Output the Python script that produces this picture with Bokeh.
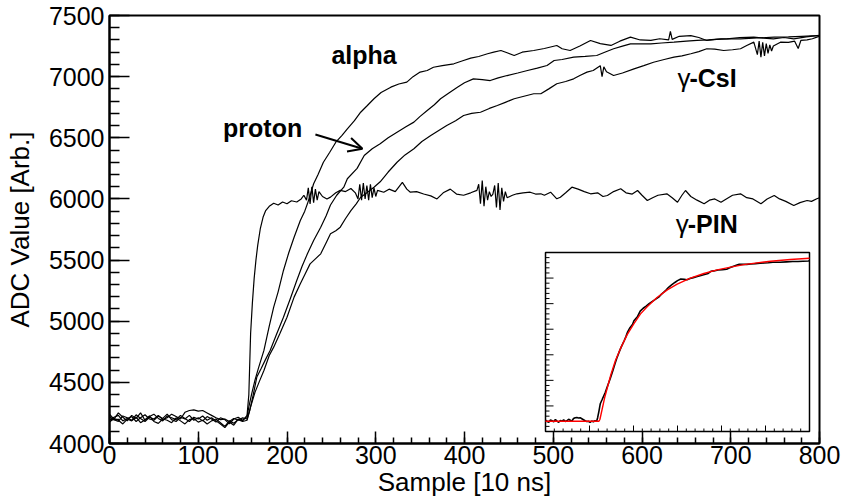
from bokeh.plotting import figure
from bokeh.models import Range1d, SingleIntervalTicker, Arrow, OpenHead, Label
from bokeh.embed import file_html
from bokeh.resources import INLINE

# ---------------- data ----------------
base_x = list(range(0, 151, 5))

alpha_x = base_x + [155, 157, 160, 164, 168, 174, 180, 185, 190, 196, 202, 208, 215, 220, 223, 226, 230, 235, 241,
                    248, 255, 262, 268, 276, 283, 290, 298, 306, 317, 326, 335, 342, 350, 358, 365, 375, 388, 398,
                    407, 416, 426, 433, 441, 448, 456, 465, 478, 490, 504, 510, 519, 530, 542, 553, 565, 575, 587,
                    598, 610, 620, 630, 632, 634, 642, 655, 664, 673, 684, 696, 710, 726, 737, 748, 760, 771, 785,
                    797, 800]
alpha_y = [4190, 4215, 4230, 4185, 4205, 4220, 4180, 4210, 4235, 4200, 4190, 4225, 4205, 4240, 4195, 4180,
           4215, 4200, 4230, 4190, 4210, 4185, 4220, 4200, 4175, 4210, 4195, 4160, 4200, 4215, 4190] + \
          [4220, 4300, 4400, 4520, 4620, 4761, 4960, 5115, 5240, 5415, 5560, 5687, 5824, 5900, 5960, 6028, 6124,
           6200, 6300, 6380, 6464, 6520, 6573, 6640, 6709, 6760, 6819, 6870, 6914, 6940, 6955, 7000, 7037, 7050,
           7077, 7090, 7105, 7130, 7151, 7165, 7187, 7200, 7214, 7195, 7173, 7200, 7214, 7230, 7255, 7228, 7214,
           7250, 7296, 7270, 7255, 7290, 7323, 7300, 7296, 7310, 7300, 7370, 7305, 7330, 7336, 7320, 7296, 7305,
           7309, 7320, 7323, 7315, 7309, 7320, 7309, 7325, 7336, 7335]

proton_x = base_x + [155, 158, 162, 166, 171, 176, 181, 188, 196, 204, 211, 217, 223, 230, 238, 244, 249, 256, 264,
                     268, 279, 287, 296, 305, 314, 324, 334, 343, 350, 358, 366, 373, 382, 392, 400, 410, 420, 429,
                     438, 448, 460, 471, 482, 493, 501, 510, 523, 536, 549, 558, 568, 578, 587, 598, 610, 622, 636,
                     650, 662, 675, 689, 700, 711, 730, 749, 765, 780, 797, 800]
proton_y = [4220, 4195, 4180, 4225, 4210, 4190, 4235, 4205, 4180, 4215, 4200, 4230, 4195, 4210, 4240, 4220,
            4200, 4255, 4270, 4275, 4265, 4270, 4250, 4230, 4210, 4195, 4200, 4180, 4205, 4190, 4210] + \
           [4200, 4270, 4400, 4543, 4615, 4690, 4761, 4890, 5033, 5190, 5333, 5450, 5551, 5660, 5769, 5860, 5950,
            6030, 6096, 6165, 6250, 6355, 6410, 6451, 6500, 6546, 6590, 6628, 6675, 6723, 6770, 6819, 6865, 6914,
            6950, 6982, 6975, 6968, 6990, 7009, 7030, 7050, 7070, 7091, 7132, 7140, 7159, 7165, 7173, 7200, 7228,
            7250, 7268, 7268, 7268, 7275, 7282, 7290, 7296, 7300, 7309, 7309, 7309, 7316, 7323, 7325, 7330, 7336,
            7338]

csi_x = base_x + [155, 159, 164, 169, 174, 180, 185, 192, 200, 208, 215, 220, 226, 232, 238, 244, 249, 255, 260, 266,
                  272, 278, 283, 290, 298, 305, 314, 324, 333, 343, 352, 362, 371, 380, 390, 399, 408, 418, 428, 437,
                  446, 456, 467, 478, 486, 495, 504, 514, 523, 530, 538, 545, 553, 555, 557, 560, 568, 578, 591, 602,
                  613, 625, 636, 645, 655, 664, 673, 682, 692, 702, 711, 718, 726, 730, 732, 734, 736, 738, 740, 742,
                  744, 746, 748, 756, 765, 772, 776, 779, 786, 792, 797, 800]
csi_y = [4175, 4205, 4190, 4160, 4200, 4185, 4215, 4170, 4195, 4225, 4180, 4165, 4200, 4190, 4170, 4210,
         4185, 4160, 4195, 4205, 4175, 4190, 4160, 4185, 4200, 4170, 4140, 4185, 4165, 4195, 4180] + \
        [4190, 4300, 4420, 4510, 4597, 4720, 4788, 4900, 5033, 5197, 5306, 5380, 5469, 5510, 5551, 5640, 5715,
         5740, 5769, 5840, 5905, 5960, 6014, 6050, 6096, 6140, 6220, 6300, 6360, 6410, 6470, 6519, 6560, 6601,
         6640, 6682, 6700, 6709, 6740, 6764, 6790, 6819, 6840, 6860, 6860, 6900, 6942, 6960, 6982, 7010, 7037,
         7050, 7090, 7000, 7080, 7040, 7009, 7030, 7064, 7090, 7118, 7140, 7159, 7170, 7187, 7205, 7228, 7225,
         7214, 7220, 7228, 7255, 7282, 7180, 7290, 7160, 7280, 7170, 7270, 7190, 7260, 7210, 7250, 7282, 7280,
         7290, 7230, 7296, 7300, 7310, 7323, 7330]

pin_x = base_x + [155, 157, 159, 161, 163, 165, 167, 170, 173, 176, 180, 185, 190, 195, 200, 205, 211, 216, 219, 222,
                  224, 226, 228, 230, 232, 234, 236, 240, 245, 249, 255, 260, 266, 272, 277, 280, 282, 284, 286, 288,
                  290, 292, 294, 296, 298, 300, 302, 309, 315, 322, 330, 335, 339, 346, 354, 362, 369, 376, 384, 391,
                  399, 407, 414, 416, 418, 420, 422, 424, 426, 428, 430, 432, 434, 436, 438, 440, 442, 444, 446, 448,
                  454, 459, 466, 474, 480, 486, 490, 497, 504, 508, 514, 521, 528, 535, 542, 550, 556, 561, 568, 576,
                  582, 589, 595, 600, 606, 612, 618, 628, 634, 640, 645, 649, 655, 662, 670, 676, 682, 689, 695, 702,
                  711, 718, 725, 734, 741, 749, 755, 762, 771, 778, 786, 791, 797, 800]
pin_y = [4240, 4200, 4250, 4215, 4185, 4230, 4205, 4250, 4190, 4220, 4240, 4205, 4185, 4225, 4210, 4195,
         4230, 4205, 4180, 4215, 4200, 4225, 4190, 4210, 4185, 4160, 4130, 4175, 4150, 4200, 4185] + \
        [4230, 4400, 4900, 5150, 5350, 5500, 5620, 5760, 5850, 5905, 5940, 5965, 5950, 5975, 5960, 5985, 5975,
         6000, 6030, 5990, 6090, 5960, 6100, 5970, 6080, 5990, 6060, 6020, 6000, 6015, 6050, 6070, 6060, 6085,
         6050, 6000, 6120, 5990, 6130, 6000, 6110, 5990, 6120, 6010, 6090, 6020, 6070, 6055, 6080, 6060, 6135,
         6080, 6055, 6060, 6040, 6025, 6000, 6050, 6080, 6040, 6030, 6050, 6070, 6120, 5960, 6150, 5940, 6100,
         5990, 6060, 6020, 6040, 6110, 5930, 6130, 5910, 6090, 5980, 6060, 6010, 6030, 6042, 6050, 6055, 6040,
         6042, 6030, 6055, 6001, 6014, 6050, 6096, 6080, 6060, 6042, 6050, 6020, 6028, 6060, 6083, 6050, 6040,
         6069, 6030, 5987, 6010, 6030, 6042, 6010, 5973, 6030, 6069, 6020, 5990, 5960, 5990, 6000, 5973, 6000,
         6030, 6042, 6010, 6000, 5960, 6000, 6028, 6000, 5980, 5946, 5970, 5987, 5980, 6001, 6010]

fit_x = [0, 100, 162, 165, 180, 198, 212, 227, 248, 268, 288, 308, 338, 369, 399, 439, 480, 520, 561, 601, 641,
         682, 742, 800]
fit_y = [4200, 4200, 4200, 4240, 4680, 5110, 5390, 5620, 5900, 6110, 6300, 6440, 6620, 6770, 6880, 7000, 7090,
         7160, 7215, 7262, 7298, 7328, 7362, 7388]

# ---------------- layout constants ----------------
W, H = 841, 501
FX0, FX1, FY0, FY1 = 109, 819, 15, 443        # main frame (px): left, right, top, bottom
IX0, IX1, IY0, IY1 = 545, 809, 252, 431       # inset frame (px)
XR = (0, 800)
YR = (4000, 7500)
FONT = "Liberation Sans"

p = figure(width=W, height=H, x_range=Range1d(*XR), y_range=Range1d(*YR),
           output_backend="svg", toolbar_location=None,
           min_border_left=FX0, min_border_right=W - FX1, min_border_top=FY0, min_border_bottom=H - FY1)
p.grid.visible = False
p.background_fill_color = "white"
p.border_fill_color = "white"
p.outline_line_color = "black"
p.outline_line_width = 2

p.xaxis.ticker = SingleIntervalTicker(interval=100, num_minor_ticks=5)
p.yaxis.ticker = SingleIntervalTicker(interval=500, num_minor_ticks=5)
for ax in (p.xaxis[0], p.yaxis[0]):
    ax.axis_line_width = 2
    ax.axis_line_color = "black"
    ax.major_tick_out = 0
    ax.minor_tick_out = 0
    ax.major_tick_line_width = 1.5
    ax.minor_tick_line_width = 1.5
    ax.major_label_text_font = FONT
    ax.major_label_text_font_size = "25px"
    ax.major_label_text_color = "black"
    ax.axis_label_text_font = FONT
    ax.axis_label_text_font_size = "26px"
    ax.axis_label_text_font_style = "normal"
    ax.axis_label_text_color = "black"
p.xaxis.axis_label = "Sample [10 ns]"
p.yaxis.axis_label = "ADC Value [Arb.]"
p.xaxis.major_tick_in = 12
p.xaxis.minor_tick_in = 6
p.yaxis.major_tick_in = 20
p.yaxis.minor_tick_in = 10
p.xaxis.major_label_standoff = 2
p.xaxis.axis_label_standoff = 0
p.yaxis.major_label_standoff = 5
p.yaxis.axis_label_standoff = 11

for xs, ys in ((pin_x, pin_y), (csi_x, csi_y), (proton_x, proton_y), (alpha_x, alpha_y)):
    p.line(xs, ys, line_color="black", line_width=1.2)

# annotations
lab = dict(text_font=FONT, text_baseline="alphabetic", text_color="black")
p.add_layout(Label(x=250, y=7175, text="alpha", text_font_style="bold", text_font_size="25px", **lab))
p.add_layout(Label(x=128, y=6578, text="proton", text_font_style="bold", text_font_size="25px", **lab))
p.add_layout(Arrow(end=OpenHead(size=14, line_width=2, line_color="black"),
                   x_start=232, y_start=6527, x_end=285, y_end=6410, line_width=2, line_color="black"))
for xg, yb, word in ((640, 6985, "-CsI"), (638, 5795, "-PIN")):
    p.add_layout(Label(x=xg, y=yb, text="γ", text_font_style="normal", text_font_size="26px", **lab))
    p.add_layout(Label(x=xg + 13.5, y=yb, text=word, text_font_style="bold", text_font_size="25px", **lab))

# ---------------- inset via extra ranges ----------------
sx = (XR[1] - XR[0]) / (IX1 - IX0)
sy = (YR[1] - YR[0]) / (IY1 - IY0)
p.extra_x_ranges = {"ix": Range1d(XR[0] - (IX0 - FX0) * sx, XR[1] + (FX1 - IX1) * sx)}
p.extra_y_ranges = {"iy": Range1d(YR[0] - (FY1 - IY1) * sy, YR[1] + (IY0 - FY0) * sy)}
kw = dict(x_range_name="ix", y_range_name="iy")
p.quad(left=[XR[0]], right=[XR[1]], bottom=[YR[0]], top=[YR[1]], fill_color="white",
       line_color="black", line_width=1.5, **kw)
# inset ticks (left: every 100, long every 500; bottom: 30 divisions, long every 5th)
yt = list(range(YR[0], YR[1] + 1, 100))
p.segment(x0=[XR[0]] * len(yt), y0=yt,
          x1=[XR[0] + (8 if v % 500 == 0 else 4) * sx for v in yt], y1=yt,
          line_color="black", line_width=1, **kw)
NDIV = 30
xt = [XR[0] + i * (XR[1] - XR[0]) / NDIV for i in range(NDIV + 1)]
p.segment(x0=xt, y0=[YR[0]] * len(xt), x1=xt,
          y1=[YR[0] + (6 if i % 5 == 0 else 3) * sy for i in range(NDIV + 1)],
          line_color="black", line_width=1, **kw)
p.line(proton_x, proton_y, line_color="black", line_width=1.6, **kw)
p.line(fit_x, fit_y, line_color="#ff0000", line_width=1.4, **kw)

open("out.html", "w").write(file_html(p, INLINE))
